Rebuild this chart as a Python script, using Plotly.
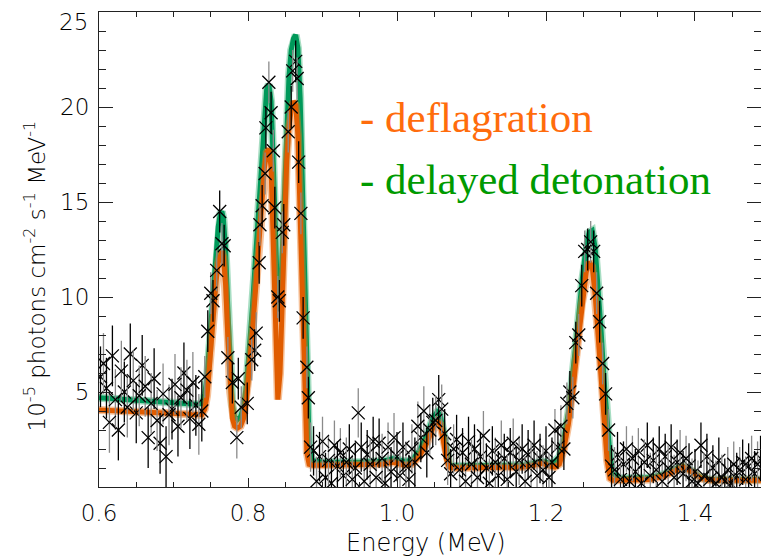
import plotly.graph_objects as go

# ---- model spectra (energy in MeV, flux in 1e-5 photons cm^-2 s^-1 MeV^-1) ----
MODEL_E = [0.600, 0.650, 0.700, 0.730, 0.738, 0.742, 0.745, 0.748, 0.751, 0.754,
           0.757, 0.760, 0.763, 0.765, 0.767, 0.770, 0.773, 0.776, 0.779, 0.782,
           0.786, 0.790, 0.794, 0.798, 0.802, 0.806, 0.810, 0.814, 0.818, 0.822,
           0.825, 0.828, 0.831, 0.834, 0.837, 0.840, 0.843, 0.846, 0.849, 0.852,
           0.855, 0.858, 0.861, 0.864, 0.867, 0.870, 0.873, 0.876, 0.879, 0.882,
           0.886, 0.900, 0.950, 0.980, 0.995, 1.010, 1.020, 1.030, 1.040, 1.048,
           1.054, 1.058, 1.062, 1.066, 1.070, 1.074, 1.080, 1.120, 1.170, 1.185,
           1.195, 1.205, 1.212, 1.218, 1.224, 1.230, 1.236, 1.242, 1.248, 1.254,
           1.258, 1.262, 1.266, 1.270, 1.274, 1.278, 1.282, 1.286, 1.290, 1.300,
           1.340, 1.360, 1.372, 1.384, 1.396, 1.408, 1.420, 1.450, 1.490]

DEFLAGRATION = [4.05, 3.95, 3.85, 3.80, 3.80, 4.1, 4.8, 6.2, 7.9, 9.5,
                10.8, 11.8, 12.3, 12.4, 12.1, 10.6, 7.8, 5.0, 3.6, 3.2,
                3.1, 3.2, 3.6, 4.6, 6.2, 8.2, 10.3, 12.5, 14.8, 16.8,
                17.6, 17.8, 16.8, 13.0, 7.5, 4.6, 6.0, 10.5, 14.5, 17.2,
                18.9, 19.9, 20.3, 20.1, 18.5, 14.5, 9.0, 4.5, 1.8, 1.2,
                1.15, 1.15, 1.15, 1.2, 1.3, 1.15, 1.2, 1.6, 2.3, 3.1,
                3.45, 3.3, 2.5, 1.5, 1.05, 1.0, 1.0, 1.0, 1.05, 1.15,
                1.25, 1.1, 1.05, 1.2, 2.0, 3.3, 5.0, 7.3, 9.6, 11.3,
                11.85, 11.6, 10.1, 8.0, 6.0, 3.6, 1.4, 0.45, 0.35, 0.35,
                0.4, 0.6, 0.85, 1.05, 0.8, 0.45, 0.35, 0.35, 0.35]

DELAYED_DETONATION = [4.7, 4.55, 4.45, 4.35, 4.4, 4.9, 5.8, 7.3, 9.1, 10.9,
                      12.5, 13.7, 14.4, 14.5, 14.1, 12.4, 9.3, 6.2, 4.3, 3.7,
                      3.55, 3.7, 4.2, 5.4, 7.2, 9.5, 12.0, 14.6, 17.3, 19.8,
                      20.9, 21.2, 20.3, 17.0, 12.5, 9.5, 9.3, 12.5, 16.5, 19.6,
                      21.6, 23.0, 23.6, 23.8, 23.1, 20.5, 15.5, 9.5, 5.5, 2.2,
                      1.4, 1.3, 1.3, 1.35, 1.5, 1.35, 1.4, 1.9, 2.7, 3.6,
                      3.95, 3.8, 3.0, 1.9, 1.25, 1.1, 1.1, 1.1, 1.15, 1.25,
                      1.35, 1.25, 1.35, 1.6, 2.5, 3.9, 5.8, 8.2, 10.7, 12.7,
                      13.4, 13.5, 12.6, 10.6, 8.2, 5.6, 3.3, 1.6, 0.7, 0.45,
                      0.5, 0.7, 0.95, 1.1, 0.85, 0.5, 0.4, 0.4, 0.4]

# ---- measured spectrum ----
DATA_E = [0.602, 0.606, 0.610, 0.614, 0.618, 0.622, 0.626, 0.630, 0.634, 0.638,
          0.642, 0.646, 0.650, 0.654, 0.658, 0.662, 0.666, 0.670, 0.674, 0.678,
          0.682, 0.686, 0.690, 0.694, 0.698, 0.702, 0.706, 0.710, 0.714, 0.718,
          0.722, 0.726, 0.730, 0.734, 0.738,
          0.742, 0.746, 0.750, 0.753, 0.758, 0.762, 0.765, 0.768, 0.773, 0.779,
          0.785, 0.787, 0.791, 0.799, 0.805, 0.809, 0.811, 0.815, 0.816, 0.819,
          0.823, 0.824, 0.828, 0.831, 0.834, 0.836, 0.840, 0.842, 0.846, 0.848,
          0.854, 0.858, 0.860, 0.864, 0.866, 0.868, 0.871, 0.874, 0.879, 0.881,
          0.884, 0.888, 0.892, 0.896, 0.900, 0.904, 0.908, 0.912, 0.916, 0.920,
          0.924, 0.928, 0.932, 0.936, 0.940, 0.944, 0.948, 0.952, 0.956, 0.960,
          0.964, 0.968, 0.972, 0.976, 0.980, 0.984, 0.988, 0.992, 0.996,
          1.000, 1.004, 1.008, 1.012, 1.016, 1.020, 1.024, 1.028, 1.032, 1.036,
          1.040, 1.044, 1.048, 1.052, 1.056, 1.060, 1.064, 1.068, 1.072, 1.076,
          1.080, 1.084, 1.088, 1.092, 1.096, 1.100, 1.104, 1.108, 1.112, 1.116,
          1.120, 1.124, 1.128, 1.132, 1.136, 1.140, 1.144, 1.148, 1.152, 1.156,
          1.160, 1.164, 1.168, 1.172, 1.176, 1.180, 1.184, 1.188, 1.192, 1.196,
          1.200, 1.204, 1.208,
          1.212, 1.216, 1.220, 1.224, 1.228, 1.232, 1.236, 1.240, 1.244, 1.248,
          1.252, 1.256, 1.260, 1.264, 1.268, 1.272, 1.276, 1.280, 1.284, 1.288,
          1.292, 1.296, 1.300, 1.304, 1.308, 1.312, 1.316, 1.320, 1.324, 1.328,
          1.332, 1.336, 1.340, 1.344, 1.348, 1.352, 1.356, 1.360, 1.364, 1.368,
          1.372, 1.376, 1.380, 1.384, 1.388, 1.392, 1.396, 1.400, 1.404, 1.408,
          1.412, 1.416, 1.420, 1.424, 1.428, 1.432, 1.436, 1.440, 1.444, 1.448,
          1.452, 1.456, 1.460, 1.464, 1.468, 1.472, 1.476, 1.480, 1.484, 1.488]

DATA_FLUX = [5.8, 6.5, 5.2, 3.4, 6.9, 4.6, 3.0, 6.1, 5.0, 4.2,
             7.0, 5.6, 3.9, 4.8, 6.4, 5.3, 2.6, 4.4, 5.7, 3.5,
             2.3, 4.9, 1.6, 3.8, 4.1, 5.4, 3.2, 4.7, 6.0, 5.1,
             3.6, 5.5, 4.3, 3.3, 4.0,
             5.8, 8.2, 10.2, 9.8, 11.4, 14.5, 12.8, 12.7, 6.8, 5.5,
             2.6, 5.7, 4.2, 4.4, 6.7, 7.2, 8.1, 11.8, 13.8, 14.8,
             16.5, 18.9, 21.3, 19.7, 17.7, 14.7, 10.0, 9.8, 13.4, 13.8,
             18.7, 20.0, 21.9, 22.4, 21.5, 17.1, 14.4, 8.9, 6.3, 4.7,
             2.1, 1.9, 0.3, 1.6, 2.4, 0.5, 1.4, 0.2, 2.2, 1.1,
             1.8, 0.6, 1.3, 2.0, 0.4, 1.0, 3.9, 2.1, 0.3, 1.7,
             1.2, 2.4, 0.5, 2.3, 1.5, 0.2, 2.1, 0.8, 2.6,
             1.6, 0.6, 2.1, 1.1, 0.4, 2.0, 1.3, 3.2, 2.6, 4.0,
             1.8, 3.0, 3.4, 3.5, 4.6, 4.1, 2.8, 1.4, 0.7, 2.0,
             2.5, 0.9, 1.8, 0.3, 2.4, 1.2, 2.0, 0.5, 1.6, 2.7,
             1.0, 0.2, 1.9, 1.3, 0.6, 2.2, 1.5, 0.4, 1.8, 2.3,
             0.8, 1.4, 2.0, 0.3, 1.7, 1.1, 2.2, 0.6, 1.5, 0.9,
             1.9, 0.5, 1.3,
             3.0, 2.1, 3.2, 2.0, 4.4, 5.0, 4.7, 7.6, 8.0, 10.6,
             12.4, 12.5, 12.9, 12.4, 10.2, 8.7, 6.5, 4.9, 3.0, 1.1,
             0.9, 1.7, 0.4, 1.2, 2.0, 0.3, 1.5, 0.8, 1.9, 0.2,
             1.3, 2.2, 0.6, 1.4, 0.9, 2.0, 0.3, 1.6, 1.0, 2.1,
             0.5, 1.3, 1.8, 0.7, 1.5, 1.1, 0.3, 0.8, 0.2, 2.2,
             0.6, 1.6, 0.4, 1.0, 0.2, 1.4, 0.5, 0.3, 0.9, 0.2,
             1.2, 0.6, 0.9, 1.3, 0.4, 1.1, 1.5, 0.7, 1.2, 1.5]

DATA_ERR = [1.6] * 35 + [1.1] * 40 + [1.3] * 29 + [1.3] * 20 + [1.3] * 33 + \
           [1.1] * 20 + [1.2] * 50

X_TICKS = [0.6, 0.8, 1.0, 1.2, 1.4]
X_TICK_TEXT = ["0.6", "0.8", "1.0", "1.2", "1.4"]
Y_TICKS = [5, 10, 15, 20, 25]
Y_TICK_TEXT = ["5", "10", "15", "20", ""]
Y_TOP_LABEL = "25"

SANS = "DejaVu Sans"
SERIF = "Liberation Serif, Times New Roman, serif"

fig = go.Figure()

# model curves: delayed detonation underneath, deflagration on top
fig.add_trace(go.Scatter(x=MODEL_E, y=DELAYED_DETONATION, mode="lines",
                         line=dict(color="rgba(60,180,120,0.45)", width=8),
                         hoverinfo="skip", showlegend=False))
fig.add_trace(go.Scatter(x=MODEL_E, y=DELAYED_DETONATION, mode="lines",
                         line=dict(color="#00995a", width=5),
                         name="delayed detonation", showlegend=False))
fig.add_trace(go.Scatter(x=MODEL_E, y=DEFLAGRATION, mode="lines",
                         line=dict(color="rgba(235,120,30,0.45)", width=8),
                         hoverinfo="skip", showlegend=False))
fig.add_trace(go.Scatter(x=MODEL_E, y=DEFLAGRATION, mode="lines",
                         line=dict(color="#e05c00", width=5),
                         name="deflagration", showlegend=False))

# measured points: error bars alternate black / grey
for parity, bar_color in ((0, "#000000"), (1, "#8a8a8a")):
    xs = DATA_E[parity::2]
    ys = DATA_FLUX[parity::2]
    es = DATA_ERR[parity::2]
    fig.add_trace(go.Scatter(
        x=xs, y=ys, mode="markers",
        marker=dict(symbol="x-thin", size=13, color="black",
                    line=dict(color="black", width=1.3)),
        error_y=dict(type="data", array=es, visible=True, width=0,
                     thickness=1.3, color=bar_color),
        showlegend=False, cliponaxis=True))

axis_common = dict(showline=True, linecolor="#222222", linewidth=1,
                   mirror="allticks", ticks="inside", tickcolor="#222222",
                   showgrid=False, zeroline=False,
                   tickfont=dict(family=SANS, size=23, color="black", weight=300))

fig.update_xaxes(range=[0.6, 1.4886], tickmode="array", tickvals=X_TICKS,
                 ticktext=X_TICK_TEXT, ticklen=9, ticklabelstandoff=5,
                 minor=dict(dtick=0.05, tick0=0.6, ticklen=5, ticks="inside",
                            tickcolor="#222222"),
                 **axis_common)
fig.update_yaxes(range=[0, 25], tickmode="array", tickvals=Y_TICKS,
                 ticktext=Y_TICK_TEXT, ticklen=14, ticklabelstandoff=4,
                 minor=dict(dtick=1, tick0=0, ticklen=7, ticks="inside",
                            tickcolor="#222222"),
                 **axis_common)

annotations = [
    # top tick label sits a little below its tick so it stays inside the page
    dict(text=Y_TOP_LABEL, xref="paper", yref="paper", x=-9 / 661, y=(487 - 22) / 475,
         xanchor="right", yanchor="middle", showarrow=False,
         font=dict(family=SANS, size=23, color="black", weight=300)),
    dict(text="Energy (MeV)", xref="paper", yref="paper", x=0.494, y=(487 - 543) / 475,
         xanchor="center", yanchor="middle", showarrow=False,
         font=dict(family=SANS, size=24, color="black", weight=300)),
    dict(text="10<sup>-5</sup> photons cm<sup>-2</sup> s<sup>-1</sup> MeV<sup>-1</sup>",
         xref="paper", yref="paper", x=-0.097, y=0.445, textangle=-90,
         xanchor="center", yanchor="middle", showarrow=False,
         font=dict(family=SANS, size=23, color="black", weight=300)),
    dict(text="- deflagration", xref="paper", yref="paper",
         x=(358 - 99) / 661, y=(487 - 117) / 475, xanchor="left", yanchor="middle",
         showarrow=False, font=dict(family=SERIF, size=43, color="#ff6c0c")),
    dict(text="- delayed detonation", xref="paper", yref="paper",
         x=(358 - 99) / 661, y=(487 - 179) / 475, xanchor="left", yanchor="middle",
         showarrow=False, font=dict(family=SERIF, size=43, color="#009a00")),
]

fig.update_layout(width=761, height=559,
                  margin=dict(l=99, r=0, t=12, b=72, autoexpand=False),
                  paper_bgcolor="white", plot_bgcolor="white",
                  annotations=annotations)

fig.write_html("out.html")
